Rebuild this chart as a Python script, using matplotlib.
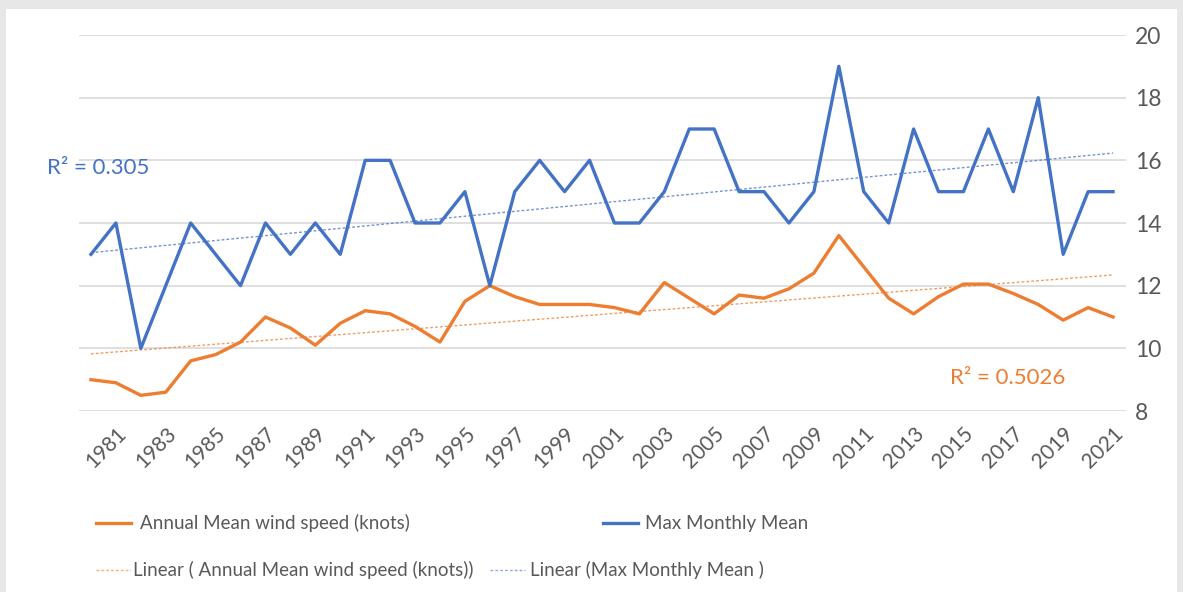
import matplotlib
matplotlib.use("Agg")
import matplotlib.pyplot as plt
import numpy as np
from matplotlib.lines import Line2D
from matplotlib.patches import Rectangle

plt.rcParams['font.family'] = ['Lato', 'DejaVu Sans']

years = list(range(1980, 2022))
annual_mean = [9.0, 8.9, 8.5, 8.6, 9.6, 9.8, 10.2, 11.0, 10.65, 10.1,
               10.8, 11.2, 11.1, 10.7, 10.2, 11.5, 12.0, 11.65, 11.4, 11.4,
               11.4, 11.3, 11.1, 12.1, 11.6, 11.1, 11.7, 11.6, 11.9, 12.4,
               13.6, 12.6, 11.6, 11.1, 11.65, 12.05, 12.05, 11.75, 11.4, 10.9,
               11.3, 11.0]
max_monthly = [13, 14, 10, 12, 14, 13, 12, 14, 13, 14,
               13, 16, 16, 14, 14, 15, 12, 15, 16, 15,
               16, 14, 14, 15, 17, 17, 15, 15, 14, 15,
               19, 15, 14, 17, 15, 15, 17, 15, 18, 13,
               15, 15]
tick_years = [str(y) for y in range(1981, 2022, 2)]
y_ticks = [8, 10, 12, 14, 16, 18, 20]
r2_annual = "R² = 0.5026"
r2_max = "R² = 0.305"
legend_labels = ["Annual Mean wind speed (knots)", "Max Monthly Mean",
                 "Linear ( Annual Mean wind speed (knots))", "Linear (Max Monthly Mean )"]

ORANGE = "#ED7D31"
BLUE = "#4472C4"
GRID = "#D9D9D9"
TXT = "#595959"

W, H = 1183, 592
fig = plt.figure(figsize=(W / 100, H / 100), dpi=100)
fig.patch.set_facecolor("#E7E7E7")
fig.add_artist(Rectangle((6 / W, 0), (1177 - 6) / W, 1 - 9 / H, transform=fig.transFigure,
                         facecolor="white", edgecolor="none", zorder=0))

def fx(px):
    return px / W

def fy(py):
    return 1 - py / H

ax = fig.add_axes([fx(78.5), fy(411), fx(1125.5) - fx(78.5), fy(35) - fy(411)])
ax.set_facecolor("none")
x = np.arange(len(years))

ax.set_xlim(-0.5, len(years) - 0.5)
ax.set_ylim(8, 20)
ax.set_yticks(y_ticks)
ax.yaxis.tick_right()
ax.tick_params(axis='y', length=0, pad=7, labelsize=16.5, labelcolor=TXT)
for yv in y_ticks:
    ax.axhline(yv, color=GRID, lw=1.2, zorder=1)
for s in ax.spines.values():
    s.set_visible(False)

tick_pos = [years.index(int(t)) for t in tick_years]
ax.set_xticks(tick_pos)
ax.set_xticklabels(tick_years, rotation=45, ha='right', rotation_mode='anchor',
                   fontsize=15, color=TXT)
ax.tick_params(axis='x', length=0, pad=9)

# trendlines
for series, col in [(annual_mean, ORANGE), (max_monthly, BLUE)]:
    k, b = np.polyfit(x, series, 1)
    ax.plot(x, k * x + b, color=col, lw=1.0, ls=(0, (2, 1.5)), alpha=0.75, zorder=2)

ax.plot(x, annual_mean, color=ORANGE, lw=2.4, zorder=3, solid_joinstyle='round')
ax.plot(x, max_monthly, color=BLUE, lw=2.4, zorder=3, solid_joinstyle='round')

fig.text(fx(47), fy(168), r2_max, color=BLUE, fontsize=16, va='center', ha='left')
fig.text(fx(950), fy(378), r2_annual, color=ORANGE, fontsize=16, va='center', ha='left')

# legend (manual, Excel-style flow layout)
def leg_item(x0, y0, col, lw, ls, alpha, label, tx):
    fig.add_artist(Line2D([fx(x0), fx(x0 + 35)], [fy(y0), fy(y0)], color=col, lw=lw,
                          ls=ls, alpha=alpha, transform=fig.transFigure))
    fig.text(fx(tx), fy(y0), label, color=TXT, fontsize=13.5, va='center', ha='left')

leg_item(96, 523, ORANGE, 2.4, '-', 1.0, legend_labels[0], 140)
leg_item(603, 523, BLUE, 2.4, '-', 1.0, legend_labels[1], 645)
leg_item(96, 570, ORANGE, 1.0, (0, (2, 1.5)), 0.6, legend_labels[2], 133)
leg_item(490, 570, BLUE, 1.0, (0, (2, 1.5)), 0.6, legend_labels[3], 530)

fig.savefig("out.png", dpi=100)
